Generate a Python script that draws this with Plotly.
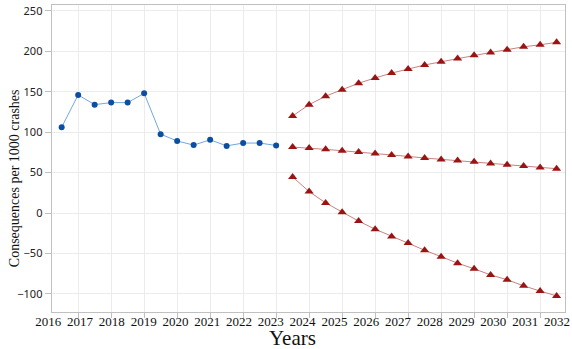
import plotly.graph_objects as go

# Observed consequences per 1000 crashes (half-yearly)
hist_x = [2016.5, 2017.0, 2017.5, 2018.0, 2018.5, 2019.0, 2019.5,
          2020.0, 2020.5, 2021.0, 2021.5, 2022.0, 2022.5, 2023.0]
hist_y = [106, 146, 134, 136.5, 136.5, 148, 97.5,
          89, 84, 90.5, 83, 86.5, 86.5, 83.5]

# Forecast (half-yearly): upper bound, point forecast, lower bound
fc_x = [2023.5, 2024.0, 2024.5, 2025.0, 2025.5, 2026.0, 2026.5, 2027.0, 2027.5,
        2028.0, 2028.5, 2029.0, 2029.5, 2030.0, 2030.5, 2031.0, 2031.5]
fc_upper = [120, 134, 144.5, 152.5, 160.5, 167, 173, 178, 183,
            187, 191, 195, 198.5, 202, 205.5, 208, 211]
fc_mid = [81.5, 80.5, 78.7, 77, 75.4, 73.7, 71.7, 70, 68,
          66.3, 65, 63.4, 61.3, 59.6, 58.1, 56.3, 54.8]
fc_lower = [44.5, 26.5, 12.5, 1, -10, -20, -29, -37, -46,
            -54, -62, -69, -76.5, -82.5, -90, -96.5, -102.5]

grid_years = list(range(2017, 2032))
year_labels = list(range(2016, 2033))
y_ticks = [-100, -50, 0, 50, 100, 150, 200, 250]

BLUE_LINE = "#74a6dc"
BLUE_MARK = "#0b4fa3"
RED_LINE = "#c98080"
RED_MARK = "#9b1414"
AXIS = "#c0c0c0"
GRID = "#ececec"

fig = go.Figure()
# empty trace so the year-label axis gets laid out
fig.add_trace(go.Scatter(x=[], y=[], xaxis="x2", yaxis="y2",
                         mode="markers", hoverinfo="skip"))
fig.add_trace(go.Scatter(
    x=hist_x, y=hist_y, mode="lines+markers",
    line=dict(color=BLUE_LINE, width=1),
    marker=dict(color=BLUE_MARK, size=6, symbol="circle"),
))
for ys in (fc_upper, fc_mid, fc_lower):
    fig.add_trace(go.Scatter(
        x=fc_x, y=ys, mode="lines+markers",
        line=dict(color=RED_LINE, width=1),
        marker=dict(color=RED_MARK, size=8, symbol="triangle-up"),
    ))

fig.update_layout(
    width=572, height=349,
    margin=dict(l=40, r=2, t=5, b=37),
    paper_bgcolor="white", plot_bgcolor="rgba(0,0,0,0)",
    showlegend=False,
    xaxis=dict(
        domain=[0.02208, 0.99491], anchor="y",
        range=[2016.197, 2031.764],
        tickmode="array", tickvals=grid_years, showticklabels=False,
        ticks="outside", ticklen=5, tickcolor=AXIS,
        showgrid=True, gridcolor=GRID, gridwidth=1,
        showline=True, linecolor=AXIS, linewidth=1, mirror=True,
        zeroline=False,
    ),
    xaxis2=dict(
        domain=[0, 1], anchor="free", position=0,
        range=[2015.740, 2032.348],
        tickmode="array", tickvals=year_labels,
        ticktext=[str(v) for v in year_labels],
        ticks="",
        tickfont=dict(family="Liberation Serif", size=13, color="#111"),
        showgrid=False, showline=False, zeroline=False,
    ),
    yaxis=dict(
        anchor="x", domain=[0, 1],
        range=[-122.4, 257.2],
        tickmode="array", tickvals=y_ticks,
        ticks="outside", ticklen=6, tickcolor=AXIS,
        tickfont=dict(family="Noto Sans", size=11, color="#222"),
        showgrid=True, gridcolor=GRID, gridwidth=1,
        showline=True, linecolor=AXIS, linewidth=1, mirror=True,
        zeroline=False,
    ),
    yaxis2=dict(
        anchor="free", position=0, domain=[0, 1], range=[0, 1],
        visible=False, showgrid=False, zeroline=False,
    ),
    annotations=[
        dict(text="Consequences per 1000 crashes", textangle=-90,
             xref="paper", yref="paper", x=-0.047, y=0.4365,
             xanchor="center", yanchor="middle", showarrow=False,
             font=dict(family="Liberation Serif", size=14, color="#111")),
        dict(text="Years",
             xref="paper", yref="paper", x=0.479, y=-0.086,
             xanchor="center", yanchor="middle", showarrow=False,
             font=dict(family="Liberation Serif", size=21, color="#111")),
    ],
)

fig.write_html("out.html")
